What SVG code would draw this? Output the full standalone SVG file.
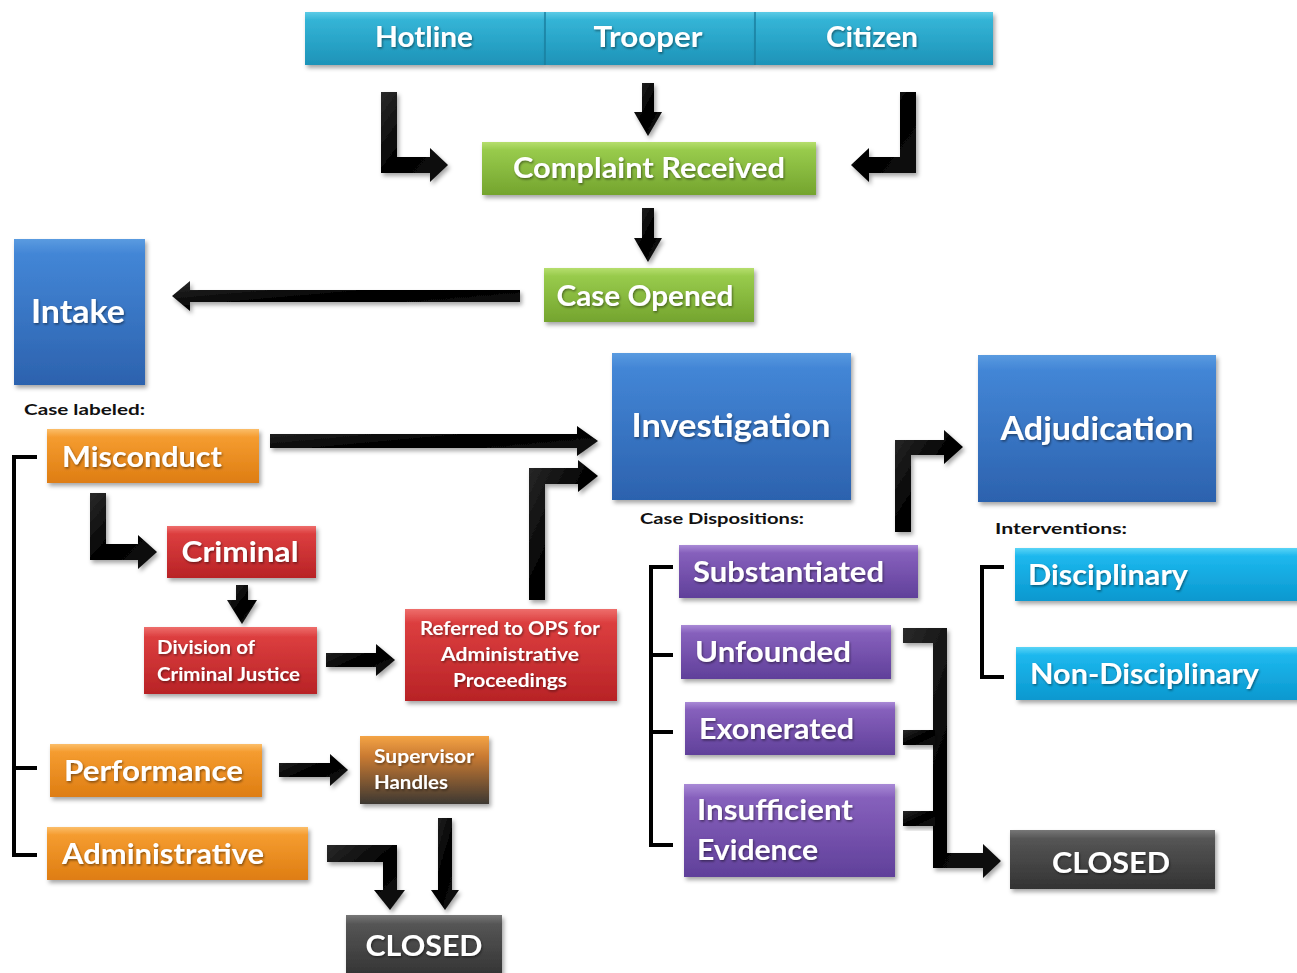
<svg xmlns="http://www.w3.org/2000/svg" width="1297" height="973" viewBox="0 0 1297 973">
<defs>
<linearGradient id="gTeal" x1="0" y1="0" x2="0" y2="1"><stop offset="0" stop-color="#5CCBE6"/><stop offset="0.15" stop-color="#34B4D6"/><stop offset="1" stop-color="#1D93B8"/></linearGradient>
<linearGradient id="gGreen" x1="0" y1="0" x2="0" y2="1"><stop offset="0" stop-color="#B6DE6E"/><stop offset="0.15" stop-color="#98CB4C"/><stop offset="1" stop-color="#74A42E"/></linearGradient>
<linearGradient id="gBlue" x1="0" y1="0" x2="0" y2="1"><stop offset="0" stop-color="#5A9BE0"/><stop offset="0.1" stop-color="#4386D6"/><stop offset="1" stop-color="#2C62AE"/></linearGradient>
<linearGradient id="gOrange" x1="0" y1="0" x2="0" y2="1"><stop offset="0" stop-color="#FBBE6A"/><stop offset="0.15" stop-color="#F59C30"/><stop offset="1" stop-color="#DE7D12"/></linearGradient>
<linearGradient id="gRed" x1="0" y1="0" x2="0" y2="1"><stop offset="0" stop-color="#EE6E6C"/><stop offset="0.15" stop-color="#DC3E3F"/><stop offset="1" stop-color="#B82326"/></linearGradient>
<linearGradient id="gPurple" x1="0" y1="0" x2="0" y2="1"><stop offset="0" stop-color="#A98AD6"/><stop offset="0.15" stop-color="#8660BC"/><stop offset="1" stop-color="#60409A"/></linearGradient>
<linearGradient id="gCyan" x1="0" y1="0" x2="0" y2="1"><stop offset="0" stop-color="#5AD4F6"/><stop offset="0.15" stop-color="#1DB8EE"/><stop offset="1" stop-color="#0B98CF"/></linearGradient>
<linearGradient id="gGray" x1="0" y1="0" x2="0" y2="1"><stop offset="0" stop-color="#777"/><stop offset="0.15" stop-color="#555"/><stop offset="1" stop-color="#333"/></linearGradient>
<linearGradient id="gSup" x1="0" y1="0" x2="0" y2="1"><stop offset="0" stop-color="#F4A445"/><stop offset="0.3" stop-color="#C97A32"/><stop offset="1" stop-color="#3D3833"/></linearGradient>
<linearGradient id="gArrow" x1="0" y1="0" x2="1" y2="1"><stop offset="0" stop-color="#2a2a2a"/><stop offset="0.5" stop-color="#000"/><stop offset="1" stop-color="#111"/></linearGradient>
<filter id="sh" x="-10%" y="-10%" width="130%" height="140%"><feDropShadow dx="2" dy="3" stdDeviation="2" flood-color="#000" flood-opacity="0.35"/></filter>
<filter id="tsh" x="-5%" y="-20%" width="110%" height="150%"><feDropShadow dx="1" dy="1.5" stdDeviation="1" flood-color="#000" flood-opacity="0.45"/></filter>
</defs>
<style>
.box{filter:url(#sh)}
.lbl{font-family:Lato,"Liberation Sans",sans-serif;font-weight:bold;fill:#fff;filter:url(#tsh)}
.big{font-size:29px}
.huge{font-size:33px}
.small{font-size:18px}
.cap{font-family:Lato,"Liberation Sans",sans-serif;font-weight:bold;font-size:16px;fill:#111}
.arr{fill:url(#gArrow);filter:url(#sh)}
.brk{fill:none;stroke:#000;stroke-width:4}
</style>
<rect width="1297" height="973" fill="#fff"/>

<g id="connectors">
<path class="arr" d="M381,92 H397 V157 H430 V148 L448,165 L430,182 V173 H381 Z"/>
<path class="arr" d="M642,83 H654 V112 H662 L648,136 L634,112 H642 Z"/>
<path class="arr" d="M900,92 H916 V173 H869 V182 L851,165 L869,148 V157 H900 Z"/>
<path class="arr" d="M642,208 H654 V238 H662 L648,262 L634,238 H642 Z"/>
<path class="arr" d="M520,290 V302 H190 V311 L172,296 L190,281 V290 Z"/>
<path class="arr" d="M270,434 H577 V426 L598,441 L577,456 V448 H270 Z"/>
<path class="arr" d="M529,600 V468 H578 V460 L598,476 L578,492 V484 H545 V600 Z"/>
<path class="arr" d="M90,493 H106 V544 H138 V535 L157,552 L138,569 V560 H90 Z"/>
<path class="arr" d="M236,585 H248 V600 H257 L242,624 L227,600 H236 Z"/>
<path class="arr" d="M326,653 H376 V644 L395,660 L376,676 V667 H326 Z"/>
<path class="arr" d="M279,763 H330 V754 L348,770 L330,786 V777 H279 Z"/>
<path class="arr" d="M327,845 H397 V890 H405 L390,910 L374,890 H383 V862 H327 Z"/>
<path class="arr" d="M438,818 H452 V890 H459 L445,910 L431,890 H438 Z"/>
<path class="arr" d="M895,532 V440 H944 V430 L963,447 L944,464 V455 H911 V532 Z"/>
<path class="arr" d="M903,628 H947 V853 H983 V844 L1001,861 L983,878 V868 H933 V643 H903 Z"/>
<rect class="arr" x="903" y="730" width="32" height="15"/>
<rect class="arr" x="903" y="811" width="32" height="15"/>
<path class="brk" d="M37,457 H14 V855 H37 M14,768 H37"/>
<path class="brk" d="M673,567 H651 V845 H673 M651,655 H673 M651,732 H673"/>
<path class="brk" d="M1004,567 H982 V677 H1004"/>
</g>

<g id="hotline"><rect class="box" x="305" y="12" width="240" height="53" fill="url(#gTeal)"/><text class="lbl big" x="424" y="47" text-anchor="middle" textLength="98" lengthAdjust="spacingAndGlyphs">Hotline</text></g>
<g id="trooper"><rect class="box" x="545" y="12" width="210" height="53" fill="url(#gTeal)"/><text class="lbl big" x="648" y="47" text-anchor="middle" textLength="109" lengthAdjust="spacingAndGlyphs">Trooper</text></g>
<g id="citizen"><rect class="box" x="755" y="12" width="238" height="53" fill="url(#gTeal)"/><text class="lbl big" x="872" y="47" text-anchor="middle" textLength="92" lengthAdjust="spacingAndGlyphs">Citizen</text></g>
<line x1="545" y1="12" x2="545" y2="65" stroke="#1a7f9f" stroke-width="1.5"/>
<line x1="755" y1="12" x2="755" y2="65" stroke="#1a7f9f" stroke-width="1.5"/>

<g id="complaint"><rect class="box" x="482" y="142" width="334" height="53" fill="url(#gGreen)"/><text class="lbl big" x="649" y="178" text-anchor="middle" textLength="272" lengthAdjust="spacingAndGlyphs">Complaint Received</text></g>
<g id="caseopened"><rect class="box" x="544" y="268" width="210" height="54" fill="url(#gGreen)"/><text class="lbl big" x="645" y="306" text-anchor="middle" textLength="177" lengthAdjust="spacingAndGlyphs">Case Opened</text></g>
<g id="intake"><rect class="box" x="14" y="239" width="131" height="146" fill="url(#gBlue)"/><text class="lbl huge" x="78" y="323" text-anchor="middle" textLength="94" lengthAdjust="spacingAndGlyphs">Intake</text></g>
<text class="cap" x="24" y="415" textLength="121" lengthAdjust="spacingAndGlyphs">Case labeled:</text>

<g id="misconduct"><rect class="box" x="47" y="429" width="212" height="54" fill="url(#gOrange)"/><text class="lbl big" x="62" y="467" textLength="160" lengthAdjust="spacingAndGlyphs">Misconduct</text></g>
<g id="criminal"><rect class="box" x="167" y="526" width="149" height="52" fill="url(#gRed)"/><text class="lbl big" x="240" y="562" text-anchor="middle" textLength="117" lengthAdjust="spacingAndGlyphs">Criminal</text></g>
<g id="division"><rect class="box" x="144" y="627" width="173" height="67" fill="url(#gRed)"/><text class="lbl small" x="157" y="654" textLength="98" lengthAdjust="spacingAndGlyphs">Division of</text><text class="lbl small" x="157" y="681" textLength="143" lengthAdjust="spacingAndGlyphs">Criminal Justice</text></g>
<g id="referred"><rect class="box" x="405" y="609" width="212" height="92" fill="url(#gRed)"/><text class="lbl small" x="510" y="635" text-anchor="middle" textLength="180" lengthAdjust="spacingAndGlyphs">Referred to OPS for</text><text class="lbl small" x="510" y="661" text-anchor="middle" textLength="138" lengthAdjust="spacingAndGlyphs">Administrative</text><text class="lbl small" x="510" y="687" text-anchor="middle" textLength="114" lengthAdjust="spacingAndGlyphs">Proceedings</text></g>
<g id="performance"><rect class="box" x="50" y="744" width="212" height="53" fill="url(#gOrange)"/><text class="lbl big" x="64" y="781" textLength="179" lengthAdjust="spacingAndGlyphs">Performance</text></g>
<g id="supervisor"><rect class="box" x="360" y="736" width="129" height="68" fill="url(#gSup)"/><text class="lbl small" x="374" y="763" textLength="100" lengthAdjust="spacingAndGlyphs">Supervisor</text><text class="lbl small" x="374" y="789" textLength="74" lengthAdjust="spacingAndGlyphs">Handles</text></g>
<g id="administrative"><rect class="box" x="47" y="827" width="261" height="53" fill="url(#gOrange)"/><text class="lbl big" x="62" y="864" textLength="202" lengthAdjust="spacingAndGlyphs">Administrative</text></g>
<g id="closed1"><rect class="box" x="346" y="915" width="156" height="62" fill="url(#gGray)"/><text class="lbl big" x="424" y="956" text-anchor="middle" textLength="117" lengthAdjust="spacingAndGlyphs">CLOSED</text></g>

<g id="investigation"><rect class="box" x="612" y="353" width="239" height="147" fill="url(#gBlue)"/><text class="lbl huge" x="731" y="437" text-anchor="middle" textLength="199" lengthAdjust="spacingAndGlyphs">Investigation</text></g>
<text class="cap" x="640" y="524" textLength="164" lengthAdjust="spacingAndGlyphs">Case Dispositions:</text>
<g id="adjudication"><rect class="box" x="978" y="355" width="238" height="147" fill="url(#gBlue)"/><text class="lbl huge" x="1097" y="440" text-anchor="middle" textLength="193" lengthAdjust="spacingAndGlyphs">Adjudication</text></g>
<text class="cap" x="995" y="534" textLength="132" lengthAdjust="spacingAndGlyphs">Interventions:</text>

<g id="substantiated"><rect class="box" x="679" y="545" width="239" height="53" fill="url(#gPurple)"/><text class="lbl big" x="693" y="582" textLength="191" lengthAdjust="spacingAndGlyphs">Substantiated</text></g>
<g id="unfounded"><rect class="box" x="681" y="625" width="210" height="54" fill="url(#gPurple)"/><text class="lbl big" x="695" y="662" textLength="156" lengthAdjust="spacingAndGlyphs">Unfounded</text></g>
<g id="exonerated"><rect class="box" x="685" y="702" width="210" height="53" fill="url(#gPurple)"/><text class="lbl big" x="699" y="739" textLength="155" lengthAdjust="spacingAndGlyphs">Exonerated</text></g>
<g id="insufficient"><rect class="box" x="684" y="784" width="211" height="93" fill="url(#gPurple)"/><text class="lbl big" x="697" y="820" textLength="156" lengthAdjust="spacingAndGlyphs">Insufficient</text><text class="lbl big" x="697" y="860" textLength="121" lengthAdjust="spacingAndGlyphs">Evidence</text></g>
<g id="closed2"><rect class="box" x="1010" y="830" width="205" height="59" fill="url(#gGray)"/><text class="lbl big" x="1111" y="873" text-anchor="middle" textLength="118" lengthAdjust="spacingAndGlyphs">CLOSED</text></g>
<g id="disciplinary"><rect class="box" x="1015" y="548" width="290" height="53" fill="url(#gCyan)"/><text class="lbl big" x="1028" y="585" textLength="160" lengthAdjust="spacingAndGlyphs">Disciplinary</text></g>
<g id="nondisciplinary"><rect class="box" x="1016" y="647" width="290" height="53" fill="url(#gCyan)"/><text class="lbl big" x="1030" y="684" textLength="229" lengthAdjust="spacingAndGlyphs">Non-Disciplinary</text></g>
</svg>
